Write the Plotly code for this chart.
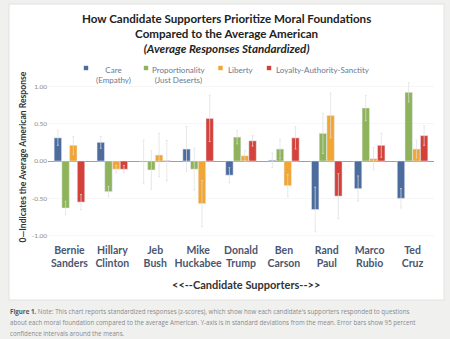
import plotly.graph_objects as go

# Candidate groups on the x axis
candidates = ["Bernie<br>Sanders", "Hillary<br>Clinton", "Jeb<br>Bush", "Mike<br>Huckabee",
              "Donald<br>Trump", "Ben<br>Carson", "Rand<br>Paul", "Marco<br>Rubio", "Ted<br>Cruz"]

# Moral foundations (series) and their sub-labels
series_names = ["Care", "Proportionality", "Liberty", "Loyalty-Authority-Sanctity"]
series_sub = ["(Empathy)", "(Just Deserts)", "", ""]
series_colors = ["#4c6c9e", "#8fb35a", "#f1a532", "#d4403a"]

# Standardized mean responses (z-scores)
care = [0.31, 0.25, -0.01, 0.16, -0.19, 0.01, -0.65, -0.37, -0.50]
proportionality = [-0.63, -0.41, -0.12, -0.11, 0.32, 0.16, 0.37, 0.71, 0.92]
liberty = [0.21, -0.11, 0.08, -0.57, 0.07, -0.33, 0.61, 0.03, 0.16]
loyalty = [-0.55, -0.11, 0.005, 0.57, 0.27, 0.31, -0.47, 0.21, 0.34]

# Half-widths of the 95% confidence intervals
care_ci = [0.10, 0.08, 0.29, 0.30, 0.10, 0.10, 0.30, 0.17, 0.13]
prop_ci = [0.09, 0.07, 0.26, 0.28, 0.09, 0.13, 0.27, 0.17, 0.13]
lib_ci = [0.12, 0.05, 0.29, 0.31, 0.07, 0.15, 0.30, 0.15, 0.12]
loy_ci = [0.10, 0.05, 0.27, 0.31, 0.07, 0.15, 0.30, 0.16, 0.13]

# Y-axis ticks
y_ticks = [1.0, 0.5, 0.0, -0.5, -1.0]
y_tick_labels = ["1.00", "0.50", "0.00", "-0.50", "-1.00"]

values = [care, proportionality, liberty, loyalty]
cis = [care_ci, prop_ci, lib_ci, loy_ci]

# Figure geometry (pixels)
W, H = 450, 339
L, R, T, B = 48, 16, 80, 97
PW, PH = W - L - R, H - T - B


def px_x(p):
    return (p - L) / PW


def px_y(p):
    return (T + PH - p) / PH


fig = go.Figure()
for name, vals, ci, col in zip(series_names, values, cis, series_colors):
    fig.add_trace(go.Bar(
        x=candidates, y=vals, name=name, marker_color=col, showlegend=False,
        error_y=dict(type="data", array=ci, color="rgba(222,222,222,0.7)",
                     thickness=1, width=1),
    ))

shapes = [
    # white card behind the chart
    dict(type="rect", xref="paper", yref="paper", layer="below",
         x0=px_x(9), x1=px_x(444), y0=px_y(300), y1=px_y(4),
         fillcolor="white", line=dict(color="#e2e2e2", width=1)),
]
annotations = []

# Chart title (three centered lines)
annotations.append(dict(xref="paper", yref="paper", x=px_x(226.5), y=px_y(33.5),
                        xanchor="center", yanchor="middle", align="center", showarrow=False,
                        text="How Candidate Supporters Prioritize Moral Foundations<br>"
                             "Compared to the Average American<br>"
                             "<i>(Average Responses Standardized)</i>",
                        font=dict(family="Lato", size=11.6, color="#222222", weight="bold")))

# Legend: colored squares with centered labels
legend_marker_x = [86, 146, 220.5, 269]
legend_text_x = [113, 178.5, 240.5, 323]
legend_y = 68
for name, sub, col, mx, tx in zip(series_names, series_sub, series_colors,
                                  legend_marker_x, legend_text_x):
    shapes.append(dict(type="rect", xref="paper", yref="paper",
                       x0=px_x(mx - 2.2), x1=px_x(mx + 2.2),
                       y0=px_y(legend_y + 2.2), y1=px_y(legend_y - 2.2),
                       fillcolor=col, line=dict(width=0)))
    label = name + ("<br>" + sub if sub else "")
    annotations.append(dict(xref="paper", yref="paper", x=px_x(tx), y=px_y(legend_y - 5),
                            xanchor="center", yanchor="top", align="center",
                            text=label, showarrow=False,
                            font=dict(family="Lato", size=8, color="#6b7891")))

# Axis titles
annotations.append(dict(xref="paper", yref="paper", x=px_x(22), y=px_y(157.5),
                        text="0—Indicates the Average American Response",
                        textangle=-90, showarrow=False, xanchor="center", yanchor="middle",
                        font=dict(family="Lato", size=8.6, color="#333333", weight="bold")))
annotations.append(dict(xref="paper", yref="paper", x=px_x(245.5), y=px_y(284),
                        text="<<--Candidate Supporters-->>", showarrow=False,
                        xanchor="center", yanchor="middle",
                        font=dict(family="Lato", size=11, color="#333333", weight="bold")))

# Caption under the card
caption = [
    "<b><span style='color:#555555'>Figure 1.</span></b> Note: This chart reports standardized responses (z-scores), which show how each candidate's supporters responded to questions",
    "about each moral foundation compared to the average American. Y-axis is in standard deviations from the mean. Error bars show 95 percent",
    "confidence intervals around the means.",
]
for line, yy in zip(caption, [311, 322, 333]):
    annotations.append(dict(xref="paper", yref="paper", x=px_x(8), y=px_y(yy),
                            xanchor="left", yanchor="middle", text=line, showarrow=False,
                            font=dict(family="Open Sans", size=6.2, color="#8a8a8a")))

fig.update_layout(
    width=W, height=H,
    margin=dict(l=L, r=R, t=T, b=B),
    paper_bgcolor="#f0f0ef", plot_bgcolor="white",
    barmode="group", bargap=0.28, bargroupgap=0.04,
    xaxis=dict(showline=False, ticks="", showgrid=False,
               tickfont=dict(family="Lato", size=10.5, color="#4a5670", weight="bold")),
    yaxis=dict(range=[-1.085, 1.085], tickvals=y_ticks, ticktext=y_tick_labels,
               showgrid=True, gridcolor="#f6f6f6", zeroline=True,
               zerolinecolor="#a0a0a0", zerolinewidth=1, showline=False, ticks="",
               tickfont=dict(family="Lato", size=6.5, color="#8a8a8a")),
    shapes=shapes, annotations=annotations,
    font=dict(family="Lato"),
)

fig.write_html("out.html")
